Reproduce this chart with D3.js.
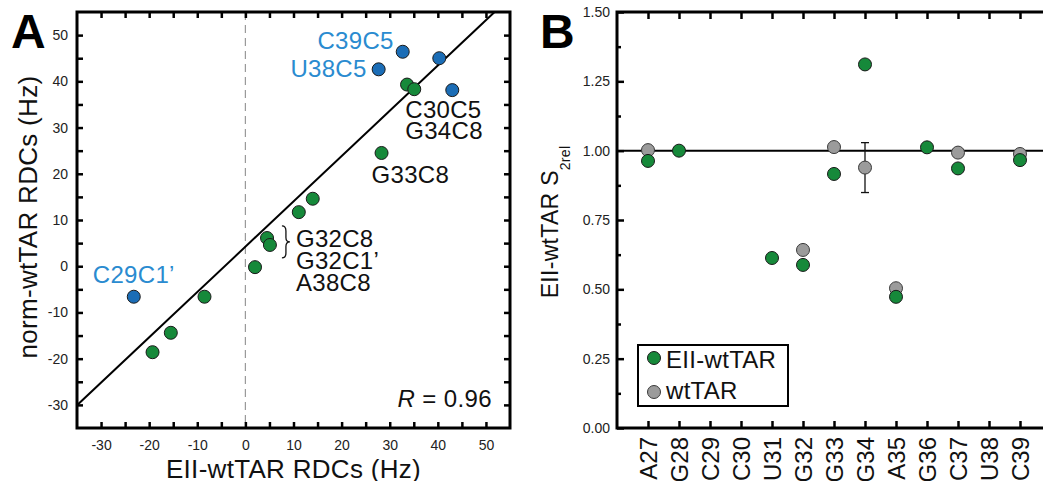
<!DOCTYPE html>
<html>
<head>
<meta charset="utf-8">
<script src="https://cdn.jsdelivr.net/npm/d3@7"></script>
<style>
  html, body { margin: 0; padding: 0; background: #fff; }
  svg { display: block; font-family: "Liberation Sans", Arial, Helvetica, sans-serif; }
</style>
</head>
<body>
<svg id="chart" width="1043" height="481"></svg>
<script>
// ---- Panel A: EII-wtTAR vs norm-wtTAR RDCs (Hz) ----
const blueX  = [32.7, 40.3, 27.7, 43.0, -23.2];
const blueY  = [46.4, 45.0, 42.6, 38.1, -6.6];
const greenX = [33.6, 35.1, 28.3, 14.0, 11.1, 4.5, 5.1, 2.0, -8.5, -15.5, -19.3];
const greenY = [39.3, 38.3, 24.5, 14.6, 11.7, 6.1, 4.6, -0.2, -6.6, -14.4, -18.6];
const fitX = [-35, 51.8];
const fitY = [-30.1, 55];
const ticksA = d3.range(-30, 51, 5);
const rText = "0.96";

// ---- Panel B: S2rel per residue ----
const residues = ["A27", "G28", "C29", "C30", "U31", "G32", "G33", "G34", "A35", "G36", "C37", "U38", "C39"];
const s2EII   = [0.963, 1.000, null, null, 0.613, 0.588, 0.916, 1.311, 0.473, 1.012, 0.936, null, 0.966];
const s2wt    = [1.002, null, null, null, null, 0.642, 1.013, 0.939, 0.504, null, 0.993, null, 0.988];
const s2wtErr = [null, null, null, null, null, null, null, 0.09, null, null, null, null, null];
const ticksB = [0, 0.25, 0.5, 0.75, 1.0, 1.25, 1.5];
const minorB = [0.125, 0.375, 0.625, 0.875, 1.125, 1.375];
const legendLabels = ["EII-wtTAR", "wtTAR"];

const GREEN = "#16893a", BLUE = "#1b6db6", BLUE_TXT = "#2a8bd0", GRAY = "#9b9b9b";
const R = 6.5;

const svg = d3.select("#chart");

function styleAxis(sel, labelSize) {
  sel.attr("font-family", null).attr("font-size", null);
  sel.select(".domain").remove();
  sel.selectAll(".tick line").attr("stroke", "#000").attr("stroke-width", 2.5);
  sel.selectAll(".tick text").attr("font-size", labelSize || 14).attr("fill", "#222");
  return sel;
}

// ================= Panel A =================
const pa = { left: 77, right: 510, top: 12, bottom: 428 };
const xA = d3.scaleLinear().domain([-35, 55]).range([pa.left, pa.right]);
const yA = d3.scaleLinear().domain([-35, 55]).range([pa.bottom, pa.top]);
const gA = svg.append("g");

gA.append("line")
  .attr("x1", xA(0)).attr("x2", xA(0)).attr("y1", pa.top).attr("y2", pa.bottom)
  .attr("stroke", "#9a9a9a").attr("stroke-width", 1.2).attr("stroke-dasharray", "8,5");

gA.append("line")
  .attr("x1", xA(fitX[0])).attr("y1", yA(fitY[0]))
  .attr("x2", xA(fitX[1])).attr("y2", yA(fitY[1]))
  .attr("stroke", "#000").attr("stroke-width", 2);

const fmtA = d => (d % 10 === 0 ? String(d) : "");
styleAxis(gA.append("g").attr("transform", `translate(0,${pa.bottom})`)
  .call(d3.axisBottom(xA).tickValues(ticksA).tickSize(-6).tickPadding(12).tickFormat(fmtA)));
styleAxis(gA.append("g").attr("transform", `translate(0,${pa.top})`)
  .call(d3.axisTop(xA).tickValues(ticksA).tickSize(-6).tickFormat("")));
styleAxis(gA.append("g").attr("transform", `translate(${pa.left},0)`)
  .call(d3.axisLeft(yA).tickValues(ticksA).tickSize(-6).tickPadding(9).tickFormat(fmtA)));
styleAxis(gA.append("g").attr("transform", `translate(${pa.right},0)`)
  .call(d3.axisRight(yA).tickValues(ticksA).tickSize(-6).tickFormat("")));

gA.append("rect")
  .attr("x", pa.left).attr("y", pa.top)
  .attr("width", pa.right - pa.left).attr("height", pa.bottom - pa.top)
  .attr("fill", "none").attr("stroke", "#000").attr("stroke-width", 3);

gA.append("g").selectAll("circle").data(greenX.map((x, i) => [x, greenY[i]]))
  .join("circle")
  .attr("cx", d => xA(d[0])).attr("cy", d => yA(d[1])).attr("r", R)
  .attr("fill", GREEN).attr("stroke", "#1a1a1a").attr("stroke-width", 1);
gA.append("g").selectAll("circle").data(blueX.map((x, i) => [x, blueY[i]]))
  .join("circle")
  .attr("cx", d => xA(d[0])).attr("cy", d => yA(d[1])).attr("r", R)
  .attr("fill", BLUE).attr("stroke", "#1a1a1a").attr("stroke-width", 1);

// point annotations
const annFont = 24, annLS = 0.3;
function ann(text, x, y, anchor, color) {
  return gA.append("text").attr("x", x).attr("y", y)
    .attr("text-anchor", anchor).attr("font-size", annFont)
    .attr("letter-spacing", annLS).attr("fill", color).text(text);
}
ann("C39C5", xA(blueX[0]) - 9, yA(blueY[0]) - 3, "end", BLUE_TXT);
ann("U38C5", xA(blueX[2]) - 12, yA(blueY[2]) + 8, "end", BLUE_TXT);
ann("C29C1\u2019", xA(blueX[4]), yA(blueY[4]) - 14, "middle", BLUE_TXT);
ann("C30C5", xA(greenX[1]) - 9, yA(greenY[1]) + 29, "start", "#111");
ann("G34C8", xA(greenX[1]) - 9, yA(greenY[1]) + 50, "start", "#111");
ann("G33C8", xA(greenX[2]) - 10, yA(greenY[2]) + 30, "start", "#111");
const bx = xA(greenX[6]) + 12, by = yA(greenY[6]) - 3;
ann("G32C8", bx + 14, by + 5, "start", "#111");
ann("G32C1\u2019", bx + 14, by + 27, "start", "#111");
ann("A38C8", bx + 14, by + 49, "start", "#111");
gA.append("path")
  .attr("d", `M${bx},${by - 16} Q${bx + 4},${by - 16} ${bx + 4},${by - 11} L${bx + 4},${by - 4.5}
              Q${bx + 4},${by} ${bx + 8},${by} Q${bx + 4},${by} ${bx + 4},${by + 4.5}
              L${bx + 4},${by + 11} Q${bx + 4},${by + 16} ${bx},${by + 16}`)
  .attr("fill", "none").attr("stroke", "#111").attr("stroke-width", 1.3);

const rLab = gA.append("text").attr("x", pa.right - 18).attr("y", pa.bottom - 21)
  .attr("text-anchor", "end").attr("font-size", 24).attr("letter-spacing", 0.4).attr("fill", "#111");
rLab.append("tspan").attr("font-style", "italic").text("R");
rLab.append("tspan").text(" = " + rText);

// axis titles
gA.append("text")
  .attr("x", (pa.left + pa.right) / 2).attr("y", 478)
  .attr("text-anchor", "middle").attr("font-size", 26).attr("letter-spacing", 0.3).attr("fill", "#111")
  .text("EII-wtTAR RDCs (Hz)");
gA.append("text")
  .attr("transform", `translate(37,${(pa.top + pa.bottom) / 2 - 3}) rotate(-90)`)
  .attr("text-anchor", "middle").attr("font-size", 26).attr("letter-spacing", 0.3).attr("fill", "#111")
  .text("norm-wtTAR RDCs (Hz)");

svg.append("text").attr("x", 11).attr("y", 48)
  .attr("font-size", 48).attr("font-weight", "bold").attr("fill", "#000").text("A");

// ================= Panel B =================
const pb = { left: 617, right: 1051, top: 12, bottom: 428 };
const xB = d3.scalePoint().domain(residues).range([pb.left, pb.right]).padding(1);
const yB = d3.scaleLinear().domain([0, 1.5]).range([pb.bottom, pb.top]);
const gB = svg.append("g");

gB.append("line")
  .attr("x1", pb.left).attr("x2", pb.right).attr("y1", yB(1)).attr("y2", yB(1))
  .attr("stroke", "#000").attr("stroke-width", 2);

const bottomB = styleAxis(gB.append("g").attr("transform", `translate(0,${pb.bottom})`)
  .call(d3.axisBottom(xB).tickSize(-7).tickPadding(9)), 24);
bottomB.selectAll(".tick text")
  .attr("transform", "rotate(-90)").attr("text-anchor", "end")
  .attr("x", -9).attr("y", 0).attr("dy", "0.36em").attr("fill", "#111");
styleAxis(gB.append("g").attr("transform", `translate(0,${pb.top})`)
  .call(d3.axisTop(xB).tickSize(-7).tickFormat("")));

styleAxis(gB.append("g").attr("transform", `translate(${pb.left},0)`)
  .call(d3.axisLeft(yB).tickValues(ticksB).tickSize(-7).tickPadding(7).tickFormat(d3.format(".2f"))));
styleAxis(gB.append("g").attr("transform", `translate(${pb.left},0)`)
  .call(d3.axisLeft(yB).tickValues(minorB).tickSize(-4).tickFormat("")));
styleAxis(gB.append("g").attr("transform", `translate(${pb.right},0)`)
  .call(d3.axisRight(yB).tickValues(ticksB).tickSize(-8).tickFormat("")));
styleAxis(gB.append("g").attr("transform", `translate(${pb.right},0)`)
  .call(d3.axisRight(yB).tickValues(minorB).tickSize(-4).tickFormat("")));

gB.append("rect")
  .attr("x", pb.left).attr("y", pb.top)
  .attr("width", pb.right - pb.left).attr("height", pb.bottom - pb.top)
  .attr("fill", "none").attr("stroke", "#000").attr("stroke-width", 3);

// error bars (wtTAR)
const errData = residues.map((r, i) => ({ r, v: s2wt[i], e: s2wtErr[i] })).filter(d => d.v != null && d.e != null);
const eb = gB.append("g").selectAll("g").data(errData).join("g").attr("stroke", "#111").attr("stroke-width", 1.3);
eb.append("line").attr("x1", d => xB(d.r)).attr("x2", d => xB(d.r))
  .attr("y1", d => yB(d.v + d.e)).attr("y2", d => yB(d.v - d.e));
eb.append("line").attr("x1", d => xB(d.r) - 4).attr("x2", d => xB(d.r) + 4)
  .attr("y1", d => yB(d.v + d.e)).attr("y2", d => yB(d.v + d.e));
eb.append("line").attr("x1", d => xB(d.r) - 4).attr("x2", d => xB(d.r) + 4)
  .attr("y1", d => yB(d.v - d.e)).attr("y2", d => yB(d.v - d.e));

gB.append("g").selectAll("circle")
  .data(residues.map((r, i) => ({ r, v: s2wt[i] })).filter(d => d.v != null))
  .join("circle")
  .attr("cx", d => xB(d.r)).attr("cy", d => yB(d.v)).attr("r", R)
  .attr("fill", GRAY).attr("stroke", "#3a3a3a").attr("stroke-width", 1);
gB.append("g").selectAll("circle")
  .data(residues.map((r, i) => ({ r, v: s2EII[i] })).filter(d => d.v != null))
  .join("circle")
  .attr("cx", d => xB(d.r)).attr("cy", d => yB(d.v)).attr("r", R)
  .attr("fill", GREEN).attr("stroke", "#1a1a1a").attr("stroke-width", 1);

// legend
const lg = gB.append("g").attr("transform", "translate(638,345)");
lg.append("rect").attr("width", 150).attr("height", 61)
  .attr("fill", "#fff").attr("stroke", "#000").attr("stroke-width", 2);
const legColors = [GREEN, GRAY];
legendLabels.forEach((lab, i) => {
  lg.append("circle").attr("cx", 16).attr("cy", 13 + i * 34).attr("r", R)
    .attr("fill", legColors[i]).attr("stroke", i ? "#3a3a3a" : "#1a1a1a").attr("stroke-width", 1);
  lg.append("text").attr("x", 28).attr("y", 23 + i * 31)
    .attr("font-size", 24).attr("letter-spacing", 0.3).attr("fill", "#111").text(lab);
});

// y title with subscript
const yt = gB.append("text")
  .attr("transform", `translate(558,${(pb.top + pb.bottom) / 2 + 2}) rotate(-90)`)
  .attr("text-anchor", "middle").attr("font-size", 23).attr("letter-spacing", 0.3).attr("fill", "#111");
yt.append("tspan").text("EII-wtTAR S");
yt.append("tspan").attr("font-size", 14).attr("dy", 12).attr("letter-spacing", 0.3).text("2rel");

svg.append("text").attr("x", 540).attr("y", 48)
  .attr("font-size", 48).attr("font-weight", "bold").attr("fill", "#000").text("B");
</script>
</body>
</html>
